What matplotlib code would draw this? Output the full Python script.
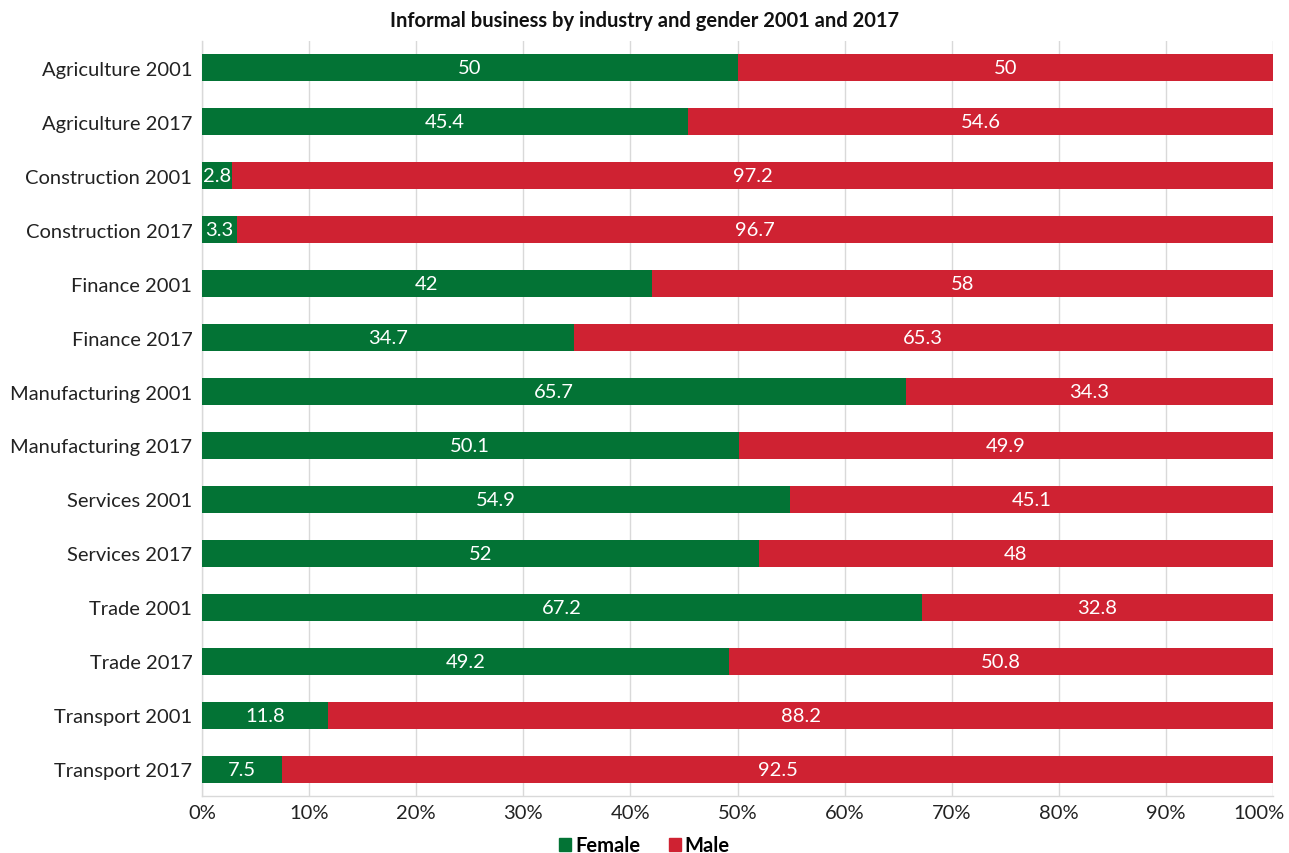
import matplotlib
matplotlib.use("Agg")
import matplotlib.pyplot as plt
import matplotlib.transforms as mtransforms
from matplotlib.patches import Patch

plt.rcParams['font.family'] = ['Lato', 'DejaVu Sans']

categories = [
    "Agriculture 2001", "Agriculture 2017",
    "Construction 2001", "Construction 2017",
    "Finance 2001", "Finance 2017",
    "Manufacturing 2001", "Manufacturing 2017",
    "Services 2001", "Services 2017",
    "Trade 2001", "Trade 2017",
    "Transport 2001", "Transport 2017",
]
female = [50, 45.4, 2.8, 3.3, 42, 34.7, 65.7, 50.1, 54.9, 52, 67.2, 49.2, 11.8, 7.5]
male = [50, 54.6, 97.2, 96.7, 58, 65.3, 34.3, 49.9, 45.1, 48, 32.8, 50.8, 88.2, 92.5]
x_ticks = [0, 10, 20, 30, 40, 50, 60, 70, 80, 90, 100]

GREEN = "#037335"
RED = "#CF2232"
FS = 14.5

fig = plt.figure(figsize=(12.89, 8.54), dpi=100)
ax = fig.add_axes([0.1567, 0.0667, 0.8309, 0.8841])

pos = list(range(len(categories)))
ax.barh(pos, female, height=0.5, color=GREEN, zorder=3)
ax.barh(pos, male, left=female, height=0.5, color=RED, zorder=3)

for i, (f, m) in enumerate(zip(female, male)):
    ax.text(f / 2, i, f"{f:g}", ha="center", va="center", color="white", fontsize=FS, zorder=4)
    ax.text(f + m / 2, i, f"{m:g}", ha="center", va="center", color="white", fontsize=FS, zorder=4)

ax.set_ylim(len(categories) - 0.5, -0.5)
ax.set_xlim(0, 100)
ax.set_yticks(pos)
ax.set_yticklabels(categories, fontsize=FS, color="#222222")
ax.set_xticks(x_ticks)
ax.set_xticklabels([f"{t}%" for t in x_ticks], fontsize=FS, color="#222222")
ax.tick_params(length=0, pad=6)
ax.tick_params(axis="y", pad=7)
# keep the last percentage label inside the figure
last = ax.get_xticklabels()[-1]
last.set_transform(last.get_transform() + mtransforms.ScaledTranslation(-0.14, 0, fig.dpi_scale_trans))

ax.grid(axis="x", color="#d9d9d9", linewidth=1, zorder=0)
for s in ["top", "right"]:
    ax.spines[s].set_visible(False)
for s in ["left", "bottom"]:
    ax.spines[s].set_color("#d9d9d9")
    ax.spines[s].set_linewidth(1)

fig.text(0.5, 0.975, "Informal business by industry and gender 2001 and 2017",
         ha="center", va="center", fontsize=14.5, fontweight="bold", color="#111111")

handles = [Patch(color=GREEN, label="Female"), Patch(color=RED, label="Male")]
fig.legend(handles=handles, loc="center", bbox_to_anchor=(0.5, 0.009), ncol=2,
           frameon=False, handlelength=0.6, handleheight=0.6, handletextpad=0.2,
           columnspacing=1.4, prop={"size": FS, "weight": "bold"})

fig.savefig("out.png", dpi=100)
